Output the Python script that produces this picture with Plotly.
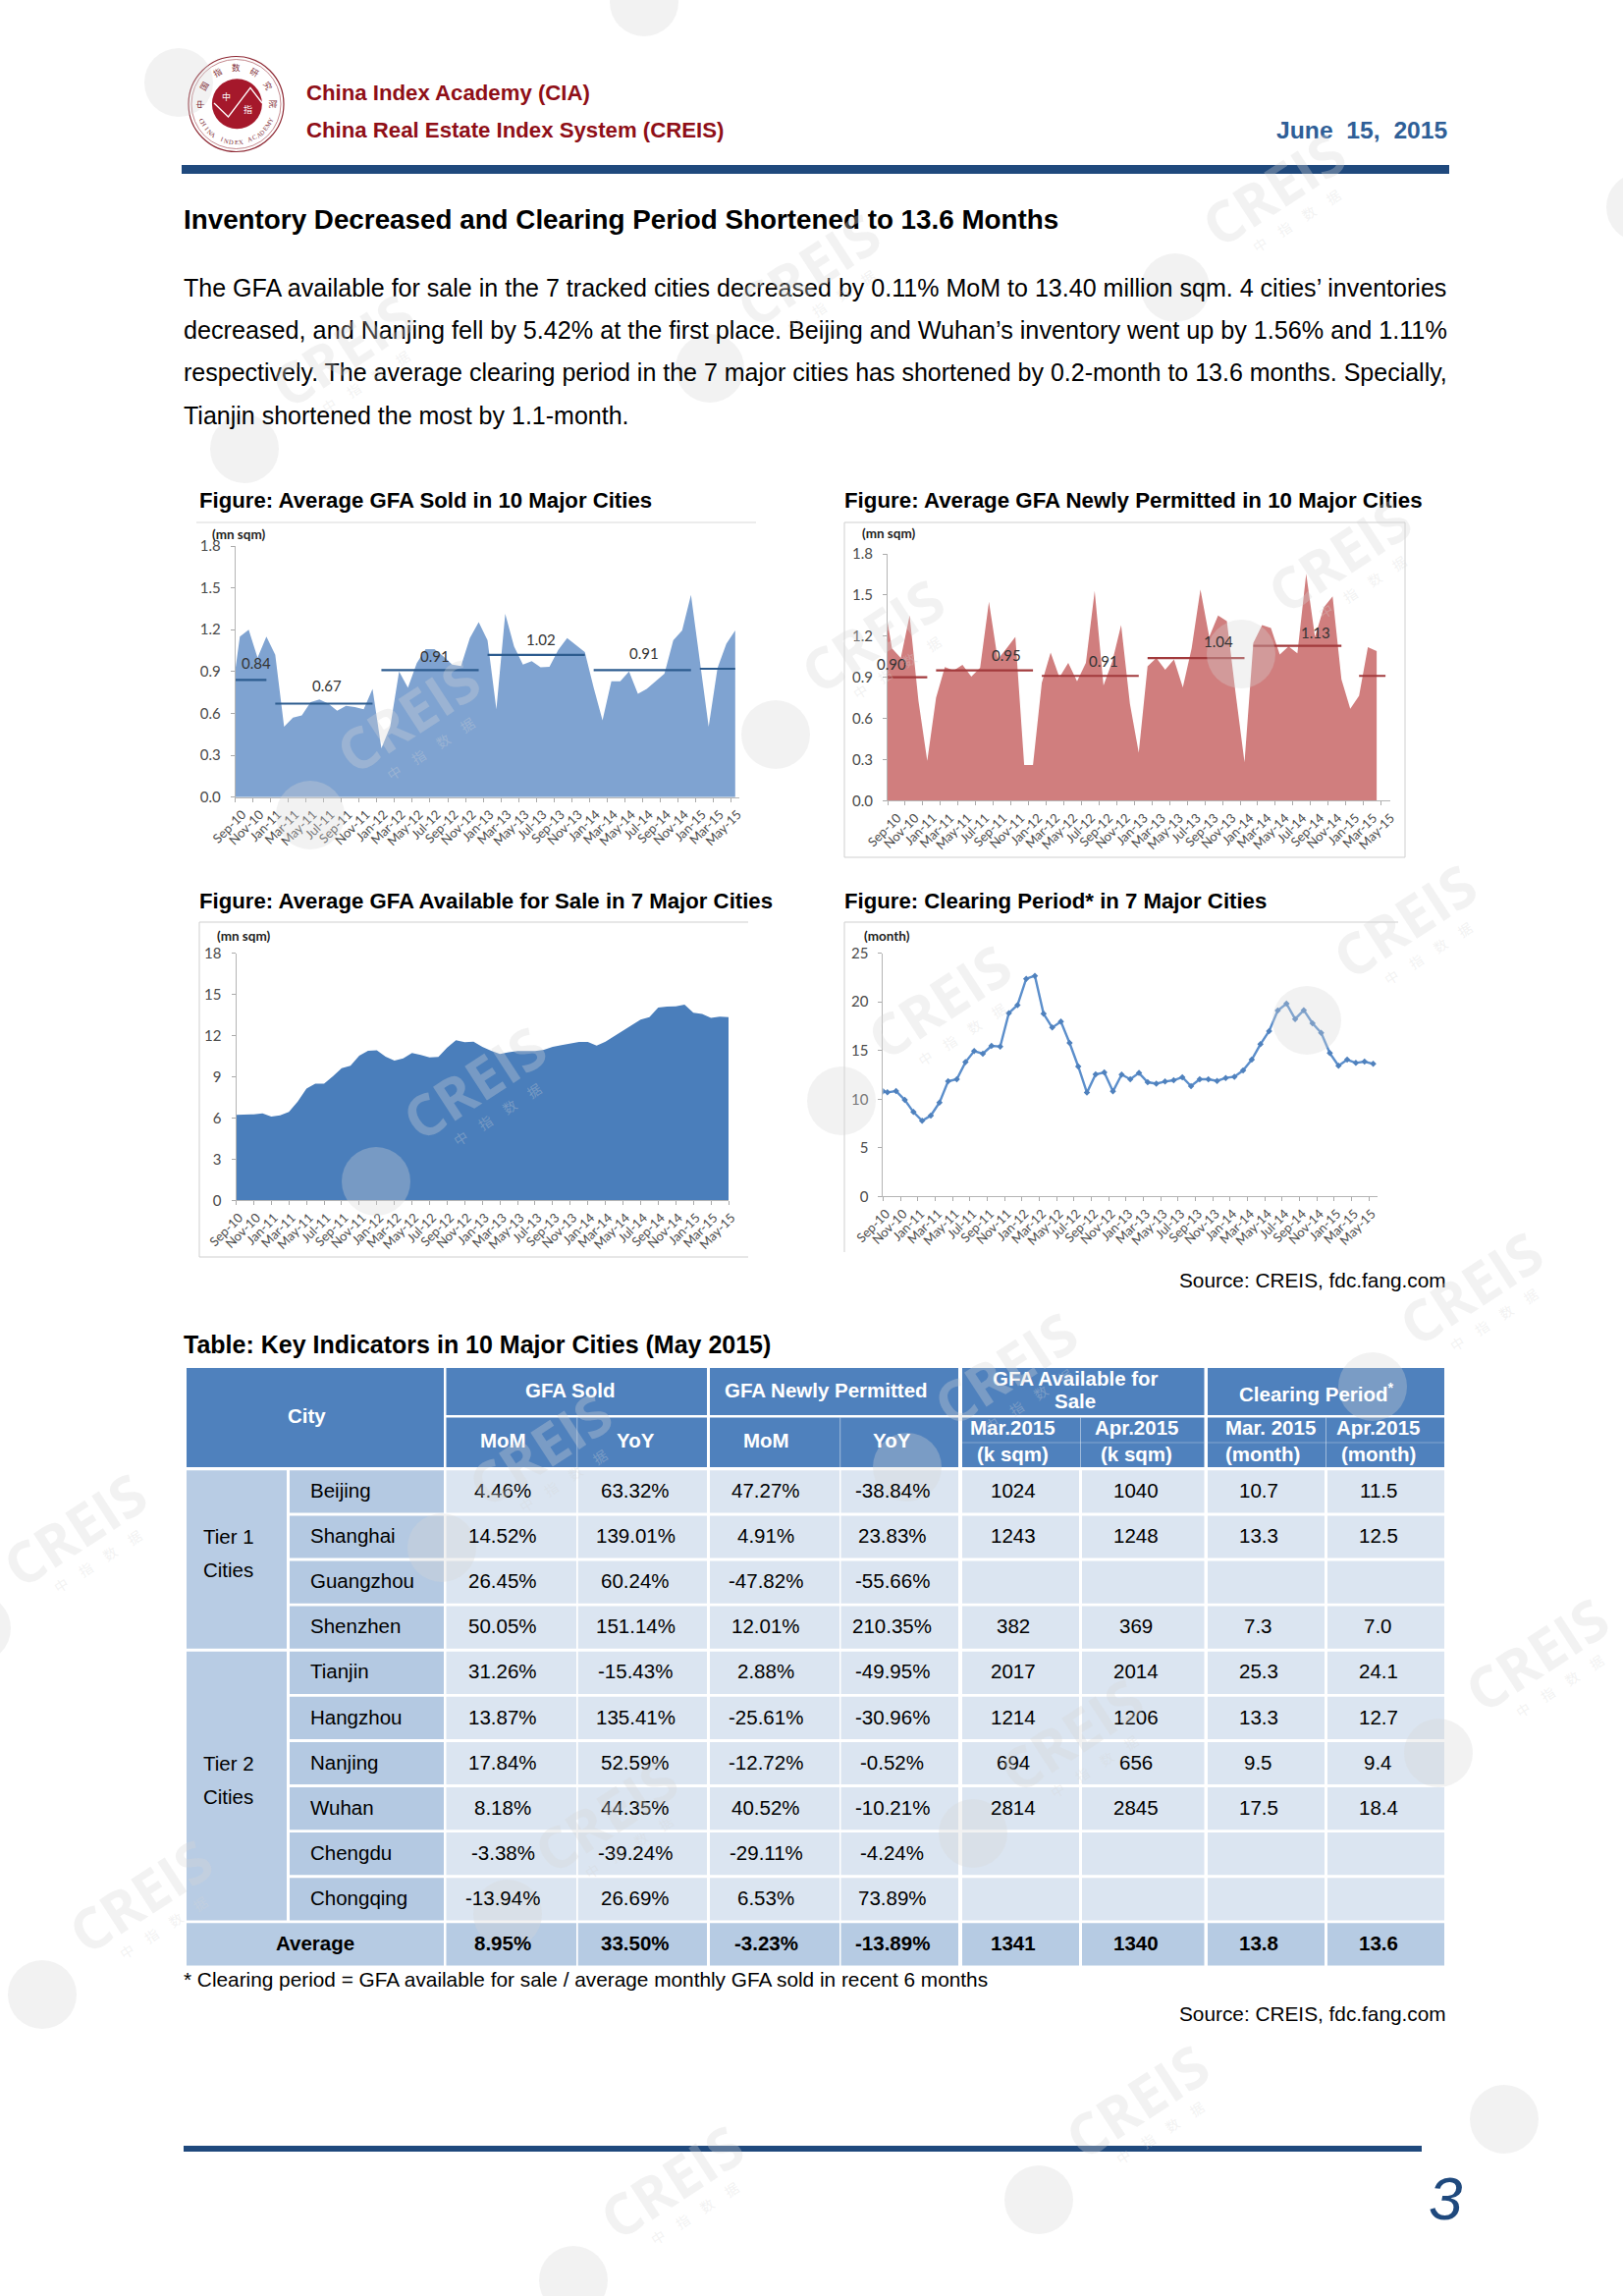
import math
import plotly.graph_objects as go

W, H = 1653, 2338

# ---------- data ----------
month_labels = ["Sep-10","Nov-10","Jan-11","Mar-11","May-11","Jul-11","Sep-11","Nov-11","Jan-12","Mar-12",
                "May-12","Jul-12","Sep-12","Nov-12","Jan-13","Mar-13","May-13","Jul-13","Sep-13","Nov-13",
                "Jan-14","Mar-14","May-14","Jul-14","Sep-14","Nov-14","Jan-15","Mar-15","May-15"]

sold_start = 0.92
sold = [1.15,1.20,1.00,1.15,1.02,0.505,0.57,0.585,0.68,0.70,0.67,0.62,0.655,0.645,0.63,0.775,0.35,0.505,0.90,0.785,
        0.96,1.06,1.06,1.01,0.95,0.94,1.14,1.255,1.125,0.63,1.315,1.08,0.95,0.975,0.93,0.935,1.055,1.14,1.09,1.04,
        0.785,0.55,0.83,0.83,0.90,0.74,0.775,0.83,0.885,1.125,1.195,1.45,0.975,0.505,0.925,1.10,1.195]
sold_avg = [0.84,0.67,0.91,1.02,0.91,0.92]
sold_avg_from = [-1,4,16,28,40,52]
sold_avg_to = [3,15,27,39,51,56]
sold_avg_text = ["0.84","0.67","0.91","1.02","0.91"]
sold_text_x = [2.4,10.4,22.5,34.5,46.2]
sold_text_y = [0.96,0.80,1.01,1.13,1.03]

perm_start = 1.30
permitted = [1.11,1.04,1.35,0.73,0.29,0.75,0.975,0.95,0.99,0.905,0.97,1.45,1.03,1.11,1.195,0.26,0.26,0.86,1.08,0.90,
             1.005,0.87,1.005,1.53,0.84,1.015,1.28,0.705,0.35,0.98,1.04,0.955,1.03,0.825,1.11,1.54,1.195,1.35,1.31,0.78,
             0.28,1.15,1.28,1.26,1.065,1.125,1.075,1.655,1.195,1.41,1.49,0.885,0.67,0.765,1.12,1.09]
perm_avg = [0.90,0.95,0.91,1.04,1.13,0.91]
perm_avg_from = [-1,5,17,29,41,53]
perm_avg_to = [4,16,28,40,51,56]
perm_avg_text = ["0.90","0.95","0.91","1.04","1.13"]
perm_text_x = [0.5,13.5,24.5,37.5,48.6]
perm_text_y = [1.00,1.06,1.02,1.16,1.23]

available = [6.22,6.22,6.27,6.34,6.10,6.2,6.44,7.2,8.15,8.5,8.5,9.04,9.63,9.8,10.54,10.9,10.94,10.47,10.18,10.35,
             10.73,10.59,10.42,10.44,11.13,11.66,11.52,11.56,11.18,10.9,10.66,10.78,10.87,10.87,10.87,10.97,11.18,11.3,11.42,11.54,
             11.54,11.28,11.56,11.97,12.4,12.8,13.16,13.35,14.04,14.12,14.14,14.26,13.66,13.57,13.3,13.38,13.35]

clear_start = 10.8
clearing = [10.7,10.83,9.93,8.68,7.77,8.31,9.66,11.84,12.05,13.8,14.94,14.67,15.48,15.41,18.84,19.68,22.38,22.68,18.78,17.36,
            17.97,15.78,13.36,10.67,12.55,12.75,10.8,12.52,12.05,12.69,11.74,11.6,11.81,11.94,12.25,11.34,12.05,12.05,11.88,12.18,
            12.31,12.95,14.06,15.65,16.99,19.11,19.82,18.24,19.15,17.8,16.82,14.74,13.43,14.06,13.73,13.86,13.63]

tiers = ["Tier 1", "Tier 2"]
cities = ["Beijing","Shanghai","Guangzhou","Shenzhen","Tianjin","Hangzhou","Nanjing","Wuhan","Chengdu","Chongqing","Average"]
sold_mom = ["4.46%","14.52%","26.45%","50.05%","31.26%","13.87%","17.84%","8.18%","-3.38%","-13.94%","8.95%"]
sold_yoy = ["63.32%","139.01%","60.24%","151.14%","-15.43%","135.41%","52.59%","44.35%","-39.24%","26.69%","33.50%"]
perm_mom = ["47.27%","4.91%","-47.82%","12.01%","2.88%","-25.61%","-12.72%","40.52%","-29.11%","6.53%","-3.23%"]
perm_yoy = ["-38.84%","23.83%","-55.66%","210.35%","-49.95%","-30.96%","-0.52%","-10.21%","-4.24%","73.89%","-13.89%"]
avail_mar = ["1024","1243","","382","2017","1214","694","2814","","","1341"]
avail_apr = ["1040","1248","","369","2014","1206","656","2845","","","1340"]
clear_mar = ["10.7","13.3","","7.3","25.3","13.3","9.5","17.5","","","13.8"]
clear_apr = ["11.5","12.5","","7.0","24.1","12.7","9.4","18.4","","","13.6"]

body_lines = [
    "The GFA available for sale in the 7 tracked cities decreased by 0.11% MoM to 13.40 million sqm. 4 cities’ inventories",
    "decreased, and Nanjing fell by 5.42% at the first place. Beijing and Wuhan’s inventory went up by 1.56% and 1.11%",
    "respectively. The average clearing period in the 7 major cities has shortened by 0.2-month to 13.6 months. Specially,",
    "Tianjin shortened the most by 1.1-month.",
]
body_sizes = [25.05, 25.2, 25, 25]

# ---------- helpers ----------
SANS = "Liberation Sans"
CHART = "Lato"
shapes, notes = [], []

def px(x): return x / W
def py(y): return 1 - y / H

def rect(x0, y0, x1, y1, fill, line=None, layer="below", lw=1):
    shapes.append(dict(type="rect", xref="paper", yref="paper", x0=px(x0), x1=px(x1), y0=py(y0), y1=py(y1),
                       fillcolor=fill, line=dict(color=line or fill, width=lw if line else 0), layer=layer))

def hline(x0, x1, y, color, width=1, layer="below"):
    shapes.append(dict(type="line", xref="paper", yref="paper", x0=px(x0), x1=px(x1), y0=py(y), y1=py(y),
                       line=dict(color=color, width=width), layer=layer))

def vline(x, y0, y1, color, width=1, layer="below"):
    shapes.append(dict(type="line", xref="paper", yref="paper", x0=px(x), x1=px(x), y0=py(y0), y1=py(y1),
                       line=dict(color=color, width=width), layer=layer))

def circle(cx, cy, r, fill="rgba(0,0,0,0)", line=None, lw=1, layer="below"):
    shapes.append(dict(type="circle", xref="paper", yref="paper", x0=px(cx-r), x1=px(cx+r), y0=py(cy+r), y1=py(cy-r),
                       fillcolor=fill, line=dict(color=line or "rgba(0,0,0,0)", width=lw if line else 0), layer=layer))

def txt(x, y, s, size, color="#000000", bold=False, anchor="left", family=SANS, angle=0, italic=False):
    if bold: s = "<b>" + s + "</b>"
    if italic: s = "<i>" + s + "</i>"
    notes.append(dict(x=px(x), y=py(y), xref="paper", yref="paper", text=s, showarrow=False, xanchor=anchor,
                      yanchor="middle", borderpad=0, borderwidth=0, textangle=angle,
                      font=dict(family=family, size=size, color=color)))

# ---------- page header ----------
circle(240.5, 106, 48.5, line="#8f2a35", lw=1.2)
circle(240.5, 106, 45.5, line="#a9545c", lw=0.7)
circle(241.4, 105.7, 25.5, fill="#a5182b")
shapes.append(dict(type="path", xref="paper", yref="paper", layer="above",
                   path="M %f %f L %f %f L %f %f L %f %f" % (px(218),py(105),px(232.5),py(119),px(255),py(89.3),px(267),py(105)),
                   line=dict(color="#ffffff", width=1.3)))
txt(230, 98, "中", 9, "#ffffff", family="Noto Sans CJK SC", anchor="center")
txt(252.6, 111, "指", 9, "#ffffff", family="Noto Sans CJK SC", anchor="center")
seal_cn = "中国指数研究院"
for k, ch in enumerate(seal_cn):
    a = math.radians(180 - k * 30)
    txt(240.5 + 38 * math.cos(a), 106 - 38 * math.sin(a), ch, 8.5, "#7d2a33", family="Noto Sans CJK SC",
        anchor="center", angle=-(90 - math.degrees(a)) * -1)
seal_en = "CHINA INDEX ACADEMY"
for k, ch in enumerate(seal_en):
    a = math.radians(205 + k * (130 / (len(seal_en) - 1)))
    txt(240.5 + 38.5 * math.cos(a), 106 - 38.5 * math.sin(a), ch, 6.5, "#7d2a33", family="Liberation Serif",
        anchor="center", angle=270 - math.degrees(a))

txt(311.5, 94, "China Index Academy (CIA)", 22.2, "#8f0f17", True)
txt(311.5, 133, "China Real Estate Index System (CREIS)", 22.2, "#8f0f17", True)
txt(1475, 133, "June&nbsp;&nbsp;15,&nbsp;&nbsp;2015", 24.7, "#2f5f97", True, "right")
rect(185, 168, 1476, 177, "#1f497d")
txt(187, 224, "Inventory Decreased and Clearing Period Shortened to 13.6 Months", 27.8, "#000000", True)
for i, line in enumerate(body_lines):
    txt(187, 293 + i * 43.2, line, body_sizes[i])

txt(203, 510, "Figure: Average GFA Sold in 10 Major Cities", 22.2, bold=True)
txt(860, 510, "Figure: Average GFA Newly Permitted in 10 Major Cities", 22.3, bold=True)
txt(203, 918, "Figure: Average GFA Available for Sale in 7 Major Cities", 22.2, bold=True)
txt(860, 918, "Figure: Clearing Period* in 7 Major Cities", 22.2, bold=True)

# chart frames
hline(200, 770, 532, "#d9d9d9", 1)
rect(860, 532, 1431, 873, "rgba(0,0,0,0)", "#cfcfcf")
hline(203, 762, 939, "#cfcfcf"); vline(203, 939, 1280, "#cfcfcf"); hline(203, 762, 1280, "#cfcfcf")
hline(860, 1424, 939, "#cfcfcf"); vline(860, 939, 1275, "#cfcfcf")

txt(216, 544, "(mn sqm)", 13.5, "#222222", True, family=CHART)
txt(878, 543, "(mn sqm)", 13.5, "#222222", True, family=CHART)
txt(221, 953, "(mn sqm)", 13.5, "#222222", True, family=CHART)
txt(880, 953, "(month)", 13.5, "#222222", True, family=CHART)

txt(1473, 1303, "Source: CREIS, fdc.fang.com", 20.8, anchor="right")

# ---------- table ----------
txt(187, 1369, "Table: Key Indicators in 10 Major Cities (May 2015)", 25, bold=True)
HEAD = "#4f81bd"
col_l = [454.5, 588.7, 723, 856.5, 980, 1102, 1230, 1352]
col_r = [587, 720, 855, 976, 1099, 1226.5, 1349, 1471]
col_c = [512, 647, 780, 908.6, 1031.8, 1157, 1281.6, 1403.7]
row_top0, pitch, row_h = 1497.3, 46.1, 43.2

rect(190, 1393, 452, 1494, HEAD)
for (l, r) in [(454.5, 720), (723, 976), (980, 1226.5), (1230, 1471)]:
    rect(l, 1393, r, 1441, HEAD)
    rect(l, 1443.5, r, 1494, HEAD)
for x in [587.8, 855.7, 1100.5, 1350.5]:
    vline(x, 1443.5, 1494, "rgba(255,255,255,0.45)", 1)
hline(980, 1226.5, 1469, "rgba(255,255,255,0.3)", 1)
hline(1230, 1471, 1469, "rgba(255,255,255,0.3)", 1)

rect(190, row_top0, 292, row_top0 + 3 * pitch + row_h, "#b8cce4")
rect(190, row_top0 + 4 * pitch, 292, row_top0 + 9 * pitch + row_h, "#b8cce4")
txt(207, 1564.5, tiers[0], 20.5); txt(207, 1598.5, "Cities", 20.5)
txt(207, 1795.5, tiers[1], 20.5); txt(207, 1829.5, "Cities", 20.5)

columns = [sold_mom, sold_yoy, perm_mom, perm_yoy, avail_mar, avail_apr, clear_mar, clear_apr]
for r, city in enumerate(cities):
    top = row_top0 + r * pitch
    cy = top + 20.2
    avg = city == "Average"
    if avg:
        rect(190, top, 452, top + row_h, "#b6cbe3")
        txt(321, cy, city, 20.5, bold=True, anchor="center")
    else:
        rect(295, top, 452, top + row_h, "#b4c9e2")
        txt(316, cy, city, 20.5)
    for c, col in enumerate(columns):
        rect(col_l[c], top, col_r[c], top + row_h, "#b6cbe3" if avg else "#dbe5f1")
        if col[r]:
            txt(col_c[c], cy, col[r], 20.5, bold=avg, anchor="center")

W_T = "#ffffff"
txt(312.6, 1441.5, "City", 20.5, W_T, True, "center")
txt(580.5, 1415.5, "GFA Sold", 20.5, W_T, True, "center")
txt(841.7, 1415.5, "GFA Newly Permitted", 20.5, W_T, True, "center")
txt(1095, 1403.5, "GFA Available for", 20.5, W_T, True, "center")
txt(1095, 1426.5, "Sale", 20.5, W_T, True, "center")
txt(1341, 1417.5, "Clearing Period<sup>*</sup>", 20.5, W_T, True, "center")
txt(col_c[0], 1466.5, "MoM", 20.5, W_T, True, "center")
txt(col_c[1], 1466.5, "YoY", 20.5, W_T, True, "center")
txt(col_c[2], 1466.5, "MoM", 20.5, W_T, True, "center")
txt(col_c[3], 1466.5, "YoY", 20.5, W_T, True, "center")
txt(1031, 1453.5, "Mar.2015", 20.5, W_T, True, "center")
txt(1031, 1480.2, "(k sqm)", 20.5, W_T, True, "center")
txt(1157, 1453.5, "Apr.2015", 20.5, W_T, True, "center")
txt(1157, 1480.2, "(k sqm)", 20.5, W_T, True, "center")
txt(1294, 1453.5, "Mar. 2015", 20.5, W_T, True, "center")
txt(1286, 1480.2, "(month)", 20.5, W_T, True, "center")
txt(1403.7, 1453.5, "Apr.2015", 20.5, W_T, True, "center")
txt(1403.7, 1480.2, "(month)", 20.5, W_T, True, "center")

txt(187, 2015, "* Clearing period = GFA available for sale / average monthly GFA sold in recent 6 months", 20.8)
txt(1473, 2050, "Source: CREIS, fdc.fang.com", 20.8, anchor="right")

# ---------- footer ----------
rect(187, 2185, 1448, 2191, "#1f497d")
txt(1472, 2238, "3", 62, "#1f497d", anchor="center", italic=True)

# ---------- charts ----------
fig = go.Figure()
months_odd = list(range(0, 57, 2))

def axes(n, x0, x1, y0, y1, xr, yr, dtick, shift):
    sfx = "" if n == 1 else str(n)
    fig.update_layout(**{
        "xaxis" + sfx: dict(domain=[px(x0), px(x1)], range=xr, anchor="y" + sfx, tickmode="array", tickvals=months_odd,
                            ticktext=month_labels, tickangle=-45, ticks="outside", ticklen=4, tickcolor="#aaaaaa",
                            showline=True, linecolor="#b5b5b5", linewidth=1, showgrid=False, zeroline=False,
                            ticklabelshift=shift, automargin=False,
                            tickfont=dict(family=CHART, size=13, color="#4a4a4a")),
        "yaxis" + sfx: dict(domain=[py(y0), py(y1)], range=yr, anchor="x" + sfx, dtick=dtick, tick0=0, ticks="outside",
                            ticklen=4, tickcolor="#aaaaaa", showline=True, linecolor="#b5b5b5", linewidth=1,
                            showgrid=False, zeroline=False, tickformat=".1f" if dtick < 1 else "d",
                            ticklabelstandoff=7, automargin=False,
                            tickfont=dict(family=CHART, size=15, color="#4a4a4a")),
    })

def area(n, xs, ys, color):
    sfx = "" if n == 1 else str(n)
    fig.add_trace(go.Scatter(x=xs, y=ys, mode="lines", fill="tozeroy", fillcolor=color, line=dict(width=0),
                             xaxis="x" + sfx, yaxis="y" + sfx, showlegend=False, hoverinfo="skip"))

def averages(n, avg, frm, to, texts, tx, ty, color):
    sfx = "" if n == 1 else str(n)
    xs, ys = [], []
    for v, a, b in zip(avg, frm, to):
        xs += [a + 0.5, b + 0.5, None]
        ys += [v, v, None]
    fig.add_trace(go.Scatter(x=xs, y=ys, mode="lines", line=dict(color=color, width=2.2),
                             xaxis="x" + sfx, yaxis="y" + sfx, showlegend=False, hoverinfo="skip"))
    for t, x, y in zip(texts, tx, ty):
        notes.append(dict(x=x, y=y, xref="x" + sfx, yref="y" + sfx, text=t, showarrow=False, borderpad=0,
                          font=dict(family=CHART, size=15, color="#333333")))

axes(1, 239.8, 753.3, 811.7, 556, [0, 57], [0, 1.8], 0.3, 7)
area(1, [0] + [i + 0.5 for i in range(len(sold))], [sold_start] + sold, "#7fa3d1")
averages(1, sold_avg, sold_avg_from, sold_avg_to, sold_avg_text, sold_text_x, sold_text_y, "#2d5c8f")

axes(2, 904, 1415.6, 815.3, 564, [0, 57], [0, 1.8], 0.3, 10)
area(2, [0] + [i + 0.5 for i in range(len(permitted))], [perm_start] + permitted, "#d07e7e")
averages(2, perm_avg, perm_avg_from, perm_avg_to, perm_avg_text, perm_text_x, perm_text_y, "#a23a3c")

axes(3, 240.5, 742, 1222.3, 970.7, [0, 56], [0, 18], 3, 3)
area(3, list(range(len(available))), available, "#4a7ebb")

axes(4, 899.4, 1403, 1218.3, 970.7, [0, 57], [0, 25], 5, 3)
fig.add_trace(go.Scatter(x=[0] + [i + 0.5 for i in range(len(clearing))], y=[clear_start] + clearing,
                         mode="lines+markers", line=dict(color="#5b8ecb", width=2.4),
                         marker=dict(size=5, symbol="diamond", color="#4f81bd"), xaxis="x4", yaxis="y4",
                         showlegend=False, hoverinfo="skip"))

# ---------- watermark lattice ----------
WM = "rgba(214,214,214,0.32)"
origin = (316, 830)
step_a = (474, -82)
step_b = (67, 373)
for n in range(-2, 5):
    for m in range(-4, 8):
        cx = origin[0] + n * step_a[0] + m * step_b[0]
        cy = origin[1] + n * step_a[1] + m * step_b[1]
        if -200 < cx < W + 100 and -100 < cy < H + 220:
            circle(cx, cy, 35, fill=WM, layer="above")
            if 60 < cx + 99 < W - 60 and 60 < cy - 101 < H - 60:
                txt(cx + 99, cy - 101, "CREIS", 58, WM, True, "center", family="Open Sans", angle=-33)
            if 60 < cx + 123 < W - 60 and 60 < cy - 68 < H - 60:
                txt(cx + 123, cy - 68, "中&nbsp;&nbsp;&nbsp;&nbsp;&nbsp;指&nbsp;&nbsp;&nbsp;&nbsp;&nbsp;数&nbsp;&nbsp;&nbsp;&nbsp;&nbsp;据", 14, WM,
                    False, "center", family="Noto Sans CJK SC", angle=-33)

fig.update_layout(width=W, height=H, margin=dict(l=0, r=0, t=0, b=0, autoexpand=False), paper_bgcolor="#ffffff",
                  plot_bgcolor="rgba(0,0,0,0)", shapes=shapes, annotations=notes, showlegend=False)

fig.write_html("out.html", config=dict(displayModeBar=False),
               post_script="document.body.style.margin='0';document.documentElement.style.overflow='hidden';")
